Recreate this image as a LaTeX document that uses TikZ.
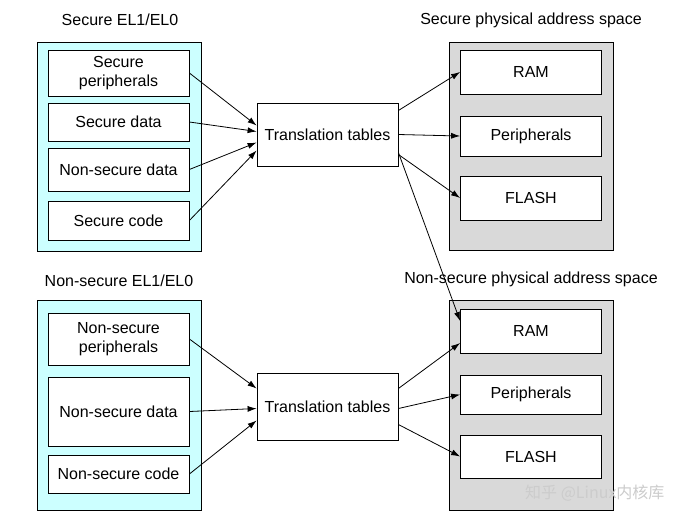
\documentclass[tikz,border=0pt]{standalone}
\usepackage{fontspec}
\setmainfont{Liberation Sans}
\newfontfamily\cjk{Noto Sans CJK SC}
\usetikzlibrary{arrows.meta}
\definecolor{cy}{RGB}{204,255,255}
\definecolor{gr}{RGB}{217,217,217}
\begin{document}
\begin{tikzpicture}[x=1pt,y=-1pt,
  box/.style={draw,fill=white,minimum width=141pt,align=center,font=\fontsize{16}{19}\selectfont,inner sep=1pt,line width=0.8pt},
  cyanbox/.style={draw,fill=cy,line width=0.8pt},
  graybox/.style={draw,fill=gr,line width=0.8pt},
  lbl/.style={font=\fontsize{16}{19}\selectfont},
  arr/.style={line width=0.8pt,-{Latex[length=9pt,width=6pt]}}]
\useasboundingbox (0,0) rectangle (679,523);
\fill[white] (0,0) rectangle (679,523);
% top
\node[lbl] (lt) at (120,20) {Secure EL1/EL0};
\node[lbl] (rt) at (531,20) {Secure physical address space};
\draw[cyanbox] (37,42) rectangle (201,251);
\draw[graybox] (449,42) rectangle (613,250);
\node[box,minimum height=46pt] (sp) at (118.5,73) {Secure\\peripherals};
\node[box,minimum height=38pt] (sd) at (118.5,122) {Secure data};
\node[box,minimum height=43pt] (nsd) at (118.5,169.5) {Non-secure data};
\node[box,minimum height=39pt] (sc) at (118.5,220.5) {Secure code};
\node[box,minimum height=63pt] (tt1) at (327.5,134.5) {Translation tables};
\node[box,minimum height=44pt] (ram1) at (531,72) {RAM};
\node[box,minimum height=40pt] (per1) at (531,136) {Peripherals};
\node[box,minimum height=44pt] (fl1) at (531,198) {FLASH};
\draw[arr] (sp.east) -- ([yshift=9pt]tt1.west);
\draw[arr] (sd.east) -- ([yshift=3pt]tt1.west);
\draw[arr] (nsd.east) -- ([yshift=-8pt]tt1.west);
\draw[arr] (sc.east) -- ([yshift=-16pt]tt1.west);
\draw[arr] ([yshift=24pt]tt1.east) -- (ram1.west);
\draw[arr] (tt1.east) -- (per1.west);
\draw[arr] ([yshift=-20pt]tt1.east) -- (fl1.west);
% bottom
\node[lbl] (lb) at (119,281) {Non-secure EL1/EL0};
\node[lbl] (rb) at (531,279) {Non-secure physical address space};
\draw[cyanbox] (37,300) rectangle (201,510);
\draw[graybox] (449,300) rectangle (613,510);
\node[box,minimum height=52pt] (nsp) at (118.5,339) {Non-secure\\peripherals};
\node[box,minimum height=69pt] (nsd2) at (118.5,411.5) {Non-secure data};
\node[box,minimum height=38pt] (nsc) at (118.5,474) {Non-secure code};
\node[box,minimum height=67pt] (tt2) at (327.5,406.5) {Translation tables};
\node[box,minimum height=44pt] (ram2) at (531,331) {RAM};
\node[box,minimum height=39pt] (per2) at (531,394.5) {Peripherals};
\node[box,minimum height=43pt] (fl2) at (531,456.5) {FLASH};
\draw[arr] (nsp.east) -- ([yshift=18pt]tt2.west);
\draw[arr] (nsd2.east) -- ([yshift=-2pt]tt2.west);
\draw[arr] (nsc.east) -- ([yshift=-14pt]tt2.west);
\draw[arr] ([yshift=18pt]tt2.east) -- ([yshift=-12pt]ram2.west);
\draw[arr] ([yshift=-2pt]tt2.east) -- (per2.west);
\draw[arr] ([yshift=-18pt]tt2.east) -- (fl2.west);
\draw[arr] ([yshift=-18pt]tt1.east) -- ([yshift=10pt]ram2.west);
\node[text=black!20,font=\cjk\fontsize{16}{18}\selectfont,anchor=east] (wm) at (668,493) {知乎 @Linux内核库};
\end{tikzpicture}
\end{document}
